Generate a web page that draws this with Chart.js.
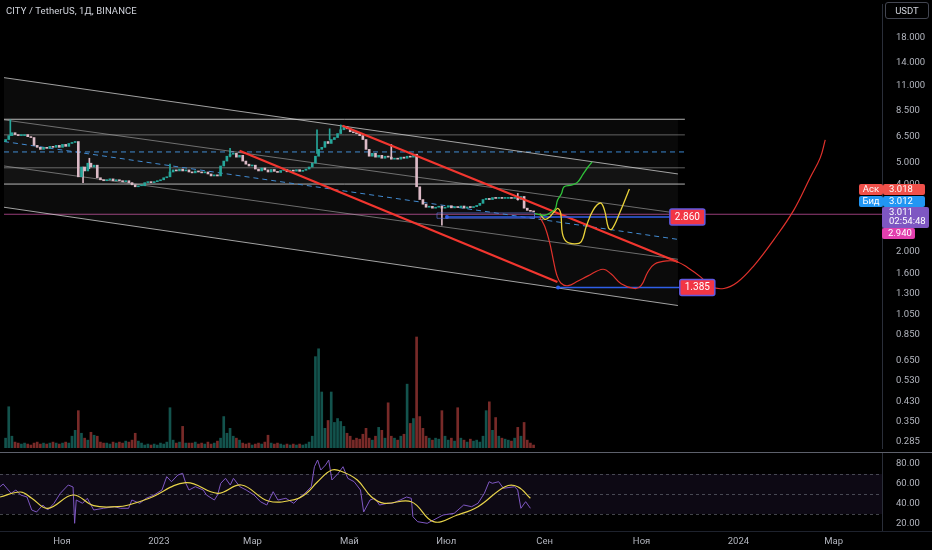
<!DOCTYPE html>
<html>
<head>
<meta charset="utf-8">
<script src="https://cdn.jsdelivr.net/npm/chart.js@4.4.0/dist/chart.umd.min.js"></script>
<style>
html, body { margin: 0; padding: 0; background: #000; }
#wrap { position: relative; width: 932px; height: 550px; overflow: hidden; background: #000; font-family: Roboto, "Noto Sans", sans-serif; }
#priceBox { position: absolute; left: 0; top: 0; }
#rsiBox { position: absolute; left: 0; top: 452px; }
#title { position: absolute; left: 6px; top: 5px; color: #d1d4dc; font-size: 9.5px; letter-spacing: 0.1px; }
#usdt { position: absolute; left: 885px; top: 2px; width: 44px; height: 17px; border: 1px solid #434651; border-radius: 3px; box-sizing: border-box; color: #d1d4dc; font-size: 9.5px; line-height: 15px; text-align: center; }
</style>
</head>
<body>
<div id="wrap">
  <canvas id="priceBox" width="932" height="452"></canvas>
  <canvas id="rsiBox" width="932" height="98"></canvas>
  <div id="title">CITY / TetherUS, 1Д, BINANCE</div>
  <div id="usdt">USDT</div>
</div>
<script>
'use strict';

// daily candles read every 2 days, day 0 = 1 Nov 2022
var startDay = -38;
var dayStep = 2;
var firstOpen = 6.20;
var closes = [
    6.34, 6.60, 6.80, 6.67, 6.60, 6.60, 6.67, 6.53, 6.47, 5.97, 5.85, 5.73, 5.85, 5.79, 5.91, 5.85, 5.97, 5.85, 6.03,
    5.91, 6.09, 6.15, 6.21, 4.32, 4.78, 4.59, 4.97, 4.78, 4.87, 4.28, 4.19, 4.15, 4.19, 4.23, 4.15, 4.19, 4.15, 4.11, 4.15,
    4.07, 3.98, 3.90, 3.94, 3.94, 4.07, 4.11, 4.07, 4.11, 4.15, 4.19, 4.28, 4.32, 4.54, 4.64, 4.59, 4.68, 4.59, 4.64, 4.54,
    4.50, 4.59, 4.54, 4.50, 4.54, 4.45, 4.36, 4.41, 4.36, 4.83, 5.08, 5.34, 5.45, 5.50, 5.29, 5.39, 5.08, 4.92, 4.83, 4.87,
    4.68, 4.59, 4.73, 4.64, 4.54, 4.66, 4.57, 4.52, 4.61, 4.66, 4.55, 4.63, 4.58, 4.65, 4.57, 4.62, 4.68, 4.78, 4.97, 5.34,
    5.73, 5.85, 6.21, 6.09, 6.34, 6.47, 6.74, 7.01, 7.23, 7.08, 6.87, 6.80, 6.74, 6.60, 6.34, 5.73, 5.34, 5.50, 5.29, 5.39,
    5.23, 5.34, 5.29, 5.18, 5.23, 5.18, 5.29, 5.23, 5.34, 5.29, 5.45, 3.90, 3.42, 3.26, 3.16, 3.19, 3.13, 3.16, 3.19, 3.13,
    3.16, 3.21, 3.14, 3.18, 3.15, 3.20, 3.13, 3.17, 3.15, 3.18, 3.22, 3.29, 3.42, 3.46, 3.42, 3.49, 3.46, 3.49, 3.46, 3.46,
    3.49, 3.46, 3.49, 3.42, 3.53, 3.13, 3.06, 3.03, 3.011
];
var volumes = [
    10, 42, 12, 6, 5, 4, 5, 4, 3, 5, 6, 4, 5, 4, 5, 6, 5, 4, 5,
    6, 5, 12, 18, 38, 15, 10, 8, 16, 13, 12, 6, 5, 5, 4, 6, 5, 6, 5, 7,
    6, 8, 15, 7, 5, 3, 4, 3, 4, 3, 5, 4, 6, 41, 8, 5, 6, 22, 5, 5,
    5, 6, 4, 5, 4, 6, 4, 5, 7, 10, 32, 15, 20, 12, 10, 8, 5, 4, 5, 3,
    4, 5, 4, 6, 13, 5, 4, 5, 4, 3, 4, 3, 4, 3, 4, 3, 4, 6, 12, 93,
    101, 57, 20, 28, 57, 26, 30, 27, 22, 15, 12, 8, 10, 9, 14, 20, 10, 8, 12, 21,
    18, 10, 46, 12, 10, 8, 12, 14, 65, 25, 30, 113, 32, 20, 12, 10, 8, 10, 9, 38,
    12, 8, 10, 7, 41, 10, 8, 6, 9, 7, 8, 6, 12, 38, 47, 18, 31, 12, 10, 9,
    8, 7, 10, 21, 12, 26, 8, 5, 3
];

// long wicks
var wickDays = [-35, 11, 15, 66, 104, 159, 167, 174, 206, 238, 286];
var wickLows = [6.60, 4.07, 4.70, 4.50, 5.30, 5.50, 6.30, 6.80, 5.20, 2.63, 3.40];
var wickHighs = [7.76, 4.78, 5.23, 4.92, 5.79, 7.01, 7.08, 7.37, 6.03, 3.20, 3.64];

// RSI and its moving average
var rsiDays = [-39, -37, -32, -29, -26, -22, -19, -16, -12, -9, -5, -1, 4, 7, 8, 9, 13, 16, 20, 26,
    33, 37, 42, 44, 49, 53, 58, 63, 66, 69, 73, 76, 78, 80, 84, 89, 91, 96, 98, 100,
    103, 106, 108, 112, 116, 121, 125, 129, 133, 136, 141, 146, 149, 153, 157, 159, 161, 163, 166, 168,
    170, 174, 177, 180, 184, 188, 190, 194, 197, 200, 205, 208, 213, 217, 220, 221, 224, 230, 234, 240,
    247, 253, 258, 262, 266, 269, 271, 275, 278, 285, 287, 289, 292, 295];
var rsiValues = [57.3, 60, 50.7, 54, 49, 47, 34, 32, 39, 34, 40.7, 50.7, 59, 57, 20.7, 44, 40.7, 45.7, 34, 35.7,
    37.3, 35.7, 35.7, 44, 40.7, 45.7, 49, 54, 67.3, 62.3, 69, 70.7, 60.7, 54, 57.3, 54, 49, 44, 49, 60.7,
    65.7, 59, 65.7, 57.3, 54, 49, 42.3, 39, 52.3, 44, 45.7, 40.7, 45.7, 50.7, 57.3, 77.3, 84, 74, 79, 84,
    64, 70.7, 77.3, 65.7, 62.3, 54, 32, 44, 45.7, 39, 40.7, 40.7, 44, 47, 45.7, 27.3, 22.3, 20.7, 24, 29,
    30.7, 39, 37.3, 40.7, 50.7, 62.3, 60.7, 62.3, 55.7, 57.3, 54, 35.7, 42.3, 35.7];
var rsiMaDays = [-39, -26, -19, -9, 7, 20, 35, 42, 55, 78, 98, 113, 130, 147, 154, 161, 170, 177, 186, 195, 203, 220, 234, 249, 262, 279, 287, 295];
var rsiMaValues = [47, 52, 45.7, 35.7, 49, 38.3, 37.3, 39, 45.7, 61.3, 50.7, 59, 43, 44.7, 50.7, 62.3, 74, 72, 64, 47, 40.7, 42.3, 22.3, 29, 37.3, 57.3, 57.3, 45.7];

var priceTicks = [18, 14, 11, 8.5, 6.5, 5, 4, 2, 1.6, 1.3, 1.05, 0.85, 0.65, 0.53, 0.43, 0.35, 0.285];
var rsiTicks = [20, 40, 60, 80];
var rsiBands = [70, 50, 30];
var monthDays = [0, 61, 120, 181, 242, 304, 365, 426, 486];
var monthLabels = ['Ноя', '2023', 'Мар', 'Май', 'Июл', 'Сен', 'Ноя', '2024', 'Мар'];

// drawn tools: start/end day and price
var channelDays = [-39, 387.3];
var channelTop = [11.98, 4.45];
var channelUpper = [7.76, 2.97];
var channelLower = [4.83, 1.85];
var channelBottom = [3.16, 1.15];
var channelMid = [6.21, 2.27];
var levelDays = [-39, 391.7];
var brightLevels = [7.81, 4.01];
var dimLevels = [6.65, 4.74];
var midLevel = 5.58;
var redADays = [110.0, 311.1];
var redAPrices = [5.65, 1.465];
var redBDays = [175.1, 387.3];
var redBPrices = [7.30, 1.80];
var zoneDays = [234.9, 296.6];
var zonePrices = [2.82, 2.98];
var targetFrom = [241.2, 311.5];
var targetTo = [382.2, 388.5];
var targetPrices = [2.86, 1.385];
var alertPrice = 2.94;
var lastPrice = 3.011;
var askPrice = 3.018;
var bidPrice = 3.012;
var countdown = '02:54:48';

var greenDays = [296.8, 303.1, 307.3, 309.8, 311.1, 313.6, 315.3, 319.9, 323.7, 327.3, 330.4, 333.0];
var greenPrices = [2.96, 2.91, 3.01, 3.12, 3.39, 3.63, 3.90, 3.97, 4.08, 4.44, 4.78, 5.03];
var yellowDays = [299.9, 303.1, 306.2, 309.4, 311.5, 313.2, 314.2, 316.7, 322.0, 326.2, 329.3, 333.6, 338.3, 340.9, 343.4, 345.5, 350.3, 356.6];
var yellowPrices = [2.96, 2.79, 2.86, 3.04, 3.12, 2.96, 2.42, 2.22, 2.17, 2.22, 2.59, 3.06, 3.30, 3.06, 2.55, 2.52, 2.96, 3.81];
var redPathDays = [299.9, 303.1, 306.2, 308.4, 310.5, 313.2, 317.8, 324.1, 330.4, 339.9, 345.1, 351.4, 359.8, 364.0, 368.2, 372.4, 380.8, 387.1,
    393.4, 401.8, 408.1, 416.4, 424.9, 435.3, 447.9, 460.5, 471.0, 477.3, 480.5];
var redPathPrices = [2.86, 2.59, 2.19, 1.85, 1.59, 1.45, 1.41, 1.48, 1.56, 1.67, 1.59, 1.44, 1.37, 1.41, 1.62, 1.76, 1.82, 1.80,
    1.70, 1.54, 1.40, 1.37, 1.46, 1.73, 2.26, 3.06, 4.29, 5.25, 6.32];

var xMin = -39, xMax = 516.4;
var priceMin = 0.2657, priceMax = 25.55;

var upColor = '#26a69a';
var downColor = '#dcbac6';
var fontFamily = 'Roboto, "Noto Sans", sans-serif';

Chart.defaults.font.family = fontFamily;
Chart.defaults.font.size = 9.5;
Chart.defaults.color = '#b2b5be';

var pts = function(xs, ys) {
    return xs.map(function(x, i) { return { x: x, y: ys[i] }; });
};

var days = closes.map(function(c, i) { return startDay + i * dayStep; });
var opens = closes.map(function(c, i) { return i === 0 ? firstOpen : closes[i - 1]; });
var isUp = closes.map(function(c, i) { return c >= opens[i]; });

var datasets = [];
var add = function(ds) {
    datasets.push(ds);
    return datasets.length - 1;
};
var lineDs = function(data, color, width, extra) {
    var ds = {
        type: 'line', yAxisID: 'y', data: data, borderColor: color, borderWidth: width,
        pointRadius: 0, fill: false, tension: 0, order: 5
    };
    Object.keys(extra || {}).forEach(function(k) { ds[k] = extra[k]; });
    return ds;
};

// shaded regions
var boxTopIdx = add(lineDs(pts(channelDays, [brightLevels[0], brightLevels[0]]), 'rgba(0,0,0,0)', 0, { order: 9 }));
var boxBotIdx = add(lineDs(pts(channelDays, [brightLevels[1], brightLevels[1]]), 'rgba(0,0,0,0)', 0, { order: 9 }));
datasets[boxTopIdx].fill = { target: boxBotIdx };
datasets[boxTopIdx].backgroundColor = 'rgba(255,255,255,0.035)';

var topIdx = add(lineDs(pts(channelDays, channelTop), 'rgba(215,215,215,0.75)', 1, { order: 6 }));
var bottomIdx = add(lineDs(pts(channelDays, channelBottom), 'rgba(215,215,215,0.75)', 1, { order: 6 }));
datasets[topIdx].fill = { target: bottomIdx };
datasets[topIdx].backgroundColor = 'rgba(255,255,255,0.045)';
add(lineDs(pts(channelDays, channelUpper), 'rgba(170,170,170,0.6)', 1, { order: 6 }));
add(lineDs(pts(channelDays, channelLower), 'rgba(170,170,170,0.6)', 1, { order: 6 }));
add(lineDs(pts(channelDays, channelMid), '#3a86cf', 1, { borderDash: [5, 4], order: 6 }));

brightLevels.forEach(function(p) {
    add(lineDs(pts(levelDays, [p, p]), 'rgba(225,225,225,0.8)', 1, { order: 6 }));
});
dimLevels.forEach(function(p) {
    add(lineDs(pts(levelDays, [p, p]), 'rgba(190,190,190,0.5)', 1, { order: 6 }));
});
add(lineDs(pts(levelDays, [midLevel, midLevel]), '#3a86cf', 1, { borderDash: [5, 4], order: 6 }));
add(lineDs(pts([xMin, xMax], [alertPrice, alertPrice]), 'rgba(200,80,160,0.75)', 1, { order: 6 }));

// volume
add({
    type: 'bar', yAxisID: 'yVol', grouped: false, order: 8, barThickness: 2,
    data: pts(days, volumes),
    backgroundColor: isUp.map(function(u) { return u ? 'rgba(38,166,154,0.5)' : 'rgba(239,83,80,0.5)'; })
});

// candles
add({
    type: 'bar', yAxisID: 'y', grouped: false, order: 3, barThickness: 1,
    data: wickDays.map(function(d, i) { return { x: d, y: [wickLows[i], wickHighs[i]] }; }),
    backgroundColor: wickDays.map(function(d) {
        var i = Math.round((d - startDay) / dayStep);
        return isUp[Math.min(i, closes.length - 1)] ? upColor : downColor;
    })
});
add({
    type: 'bar', yAxisID: 'y', grouped: false, order: 2, barThickness: 2, minBarLength: 1,
    data: days.map(function(d, i) { return { x: d, y: [opens[i], closes[i]] }; }),
    backgroundColor: isUp.map(function(u) { return u ? upColor : downColor; })
});

// zone + targets
add(lineDs([
    { x: zoneDays[0], y: zonePrices[1] }, { x: zoneDays[1], y: zonePrices[1] },
    { x: zoneDays[1], y: zonePrices[0] }, { x: zoneDays[0], y: zonePrices[0] },
    { x: zoneDays[0], y: zonePrices[1] }
], 'rgba(90,110,200,0.7)', 1, { order: 1 }));
targetPrices.forEach(function(p, i) {
    add(lineDs(pts([targetFrom[i], targetTo[i]], [p, p]), '#2f5fe8', 1.5, {
        order: 1, pointRadius: [2, 0], pointBackgroundColor: '#2f5fe8', pointBorderWidth: 0
    }));
});

// red trend lines and sketched paths
add(lineDs(pts(redADays, redAPrices), '#f2362f', 2.2, { order: 1 }));
add(lineDs(pts(redBDays, redBPrices), '#f2362f', 2.2, { order: 1 }));
add(lineDs(pts(greenDays, greenPrices), '#2fc43a', 1.3, { order: 0, tension: 0.4 }));
add(lineDs(pts(yellowDays, yellowPrices), '#e9d23a', 1.3, { order: 0, tension: 0.4 }));
add(lineDs(pts(redPathDays, redPathPrices), '#e0322c', 1.2, { order: 0, tension: 0.4 }));

var rightAxisFit = function(s) {
    s.width = 50;
    s.paddingTop = 0;
    s.paddingBottom = 0;
};

var tag = function(ctx, x, y, w, h, fill, text, align, stroke) {
    ctx.beginPath();
    if (ctx.roundRect) {
        ctx.roundRect(x, y, w, h, 2);
    } else {
        ctx.rect(x, y, w, h);
    }
    ctx.fillStyle = fill;
    ctx.fill();
    if (stroke) {
        ctx.lineWidth = 1.5;
        ctx.strokeStyle = stroke;
        ctx.stroke();
    }
    ctx.fillStyle = '#ffffff';
    ctx.textBaseline = 'middle';
    if (align === 'center') {
        ctx.textAlign = 'center';
        ctx.fillText(text, x + w / 2, y + h / 2 + 0.5);
    } else {
        ctx.textAlign = 'left';
        ctx.fillText(text, x + 6, y + h / 2 + 0.5);
    }
};

var priceTags = {
    id: 'priceTags',
    afterDraw: function(chart) {
        var ctx = chart.ctx;
        var xs = chart.scales.x;
        var ys = chart.scales.y;
        var right = chart.chartArea.right;
        ctx.save();
        ctx.font = '10px ' + fontFamily;
        targetPrices.forEach(function(p, i) {
            var x = xs.getPixelForValue(targetTo[i]);
            var y = ys.getPixelForValue(p);
            tag(ctx, x, y - 8, 35, 16, '#f23645', p.toFixed(3), 'center', '#6258e0');
        });
        ctx.font = '9.5px ' + fontFamily;
        var py = ys.getPixelForValue(lastPrice);
        tag(ctx, right - 23, py - 28, 24, 11, '#f0504a', 'Аск', 'center');
        tag(ctx, right + 1, py - 28, 42, 11, '#f0504a', askPrice.toFixed(3), 'left');
        tag(ctx, right - 23, py - 16, 24, 11, '#2196f3', 'Бид', 'center');
        tag(ctx, right + 1, py - 16, 42, 11, '#2196f3', bidPrice.toFixed(3), 'left');
        tag(ctx, right, py - 5, 47, 21, '#7e57c2', '', 'left');
        ctx.fillStyle = '#ffffff';
        ctx.textAlign = 'left';
        ctx.fillText(lastPrice.toFixed(3), right + 7, py + 0.5);
        ctx.fillText(countdown, right + 7, py + 10);
        tag(ctx, right, py + 16, 33, 11, '#e23fae', alertPrice.toFixed(3), 'left');
        ctx.restore();
    }
};

new Chart(document.getElementById('priceBox'), {
    type: 'line',
    data: { datasets: datasets },
    plugins: [priceTags],
    options: {
        responsive: false,
        animation: false,
        events: [],
        layout: { padding: 0 },
        plugins: { legend: { display: false }, tooltip: { enabled: false } },
        scales: {
            x: { type: 'linear', min: xMin, max: xMax, offset: false, display: false, bounds: 'data' },
            y: {
                type: 'logarithmic', position: 'right', min: priceMin, max: priceMax, bounds: 'data',
                grid: { display: false },
                border: { display: true, color: '#2a2e39' },
                ticks: { padding: 6, color: '#b2b5be', callback: function(v) { return Number(v).toFixed(3); } },
                afterBuildTicks: function(s) { s.ticks = priceTicks.map(function(v) { return { value: v }; }); },
                afterFit: rightAxisFit
            },
            yVol: { type: 'linear', display: false, min: 0, max: 452 }
        }
    }
});

var rsiPanel = {
    id: 'rsiPanel',
    beforeDatasetsDraw: function(chart) {
        var ctx = chart.ctx;
        var area = chart.chartArea;
        var ys = chart.scales.y;
        var top = ys.getPixelForValue(rsiBands[0]);
        var bottom = ys.getPixelForValue(rsiBands[2]);
        ctx.save();
        ctx.fillStyle = 'rgba(126,87,194,0.1)';
        ctx.fillRect(area.left, top, area.right - area.left, bottom - top);
        ctx.strokeStyle = 'rgba(120,123,134,0.55)';
        ctx.lineWidth = 1;
        ctx.setLineDash([3, 3]);
        rsiBands.forEach(function(b) {
            var y = Math.round(ys.getPixelForValue(b)) + 0.5;
            ctx.beginPath();
            ctx.moveTo(area.left, y);
            ctx.lineTo(area.right, y);
            ctx.stroke();
        });
        ctx.setLineDash([]);
        ctx.strokeStyle = '#5d606b';
        ctx.beginPath();
        ctx.moveTo(0, 0.5);
        ctx.lineTo(chart.width, 0.5);
        ctx.stroke();
        ctx.strokeStyle = '#1e222d';
        ctx.beginPath();
        ctx.moveTo(0, area.bottom + 0.5);
        ctx.lineTo(chart.width, area.bottom + 0.5);
        ctx.stroke();
        ctx.restore();
    }
};

new Chart(document.getElementById('rsiBox'), {
    type: 'line',
    data: {
        datasets: [
            { data: pts(rsiMaDays, rsiMaValues), borderColor: '#e8d44a', borderWidth: 1.2, pointRadius: 0, tension: 0.4 },
            { data: pts(rsiDays, rsiValues), borderColor: '#7e57c2', borderWidth: 1, pointRadius: 0, tension: 0 }
        ]
    },
    plugins: [rsiPanel],
    options: {
        responsive: false,
        animation: false,
        events: [],
        layout: { padding: 0 },
        plugins: { legend: { display: false }, tooltip: { enabled: false } },
        scales: {
            x: {
                type: 'linear', min: xMin, max: xMax, offset: false, bounds: 'data',
                grid: { display: false, drawTicks: false },
                border: { display: false },
                ticks: {
                    padding: 5, color: '#b2b5be', maxRotation: 0, autoSkip: false,
                    callback: function(v) {
                        var i = monthDays.indexOf(v);
                        return i < 0 ? '' : monthLabels[i];
                    }
                },
                afterBuildTicks: function(s) { s.ticks = monthDays.map(function(v) { return { value: v }; }); },
                afterFit: function(s) { s.height = 19; s.paddingLeft = 0; s.paddingRight = 0; }
            },
            y: {
                type: 'linear', position: 'right', min: 13, max: 92, bounds: 'data',
                grid: { display: false },
                border: { display: true, color: '#2a2e39' },
                ticks: { padding: 6, color: '#b2b5be', callback: function(v) { return Number(v).toFixed(2); } },
                afterBuildTicks: function(s) { s.ticks = rsiTicks.map(function(v) { return { value: v }; }); },
                afterFit: rightAxisFit
            }
        }
    }
});
</script>
</body>
</html>
